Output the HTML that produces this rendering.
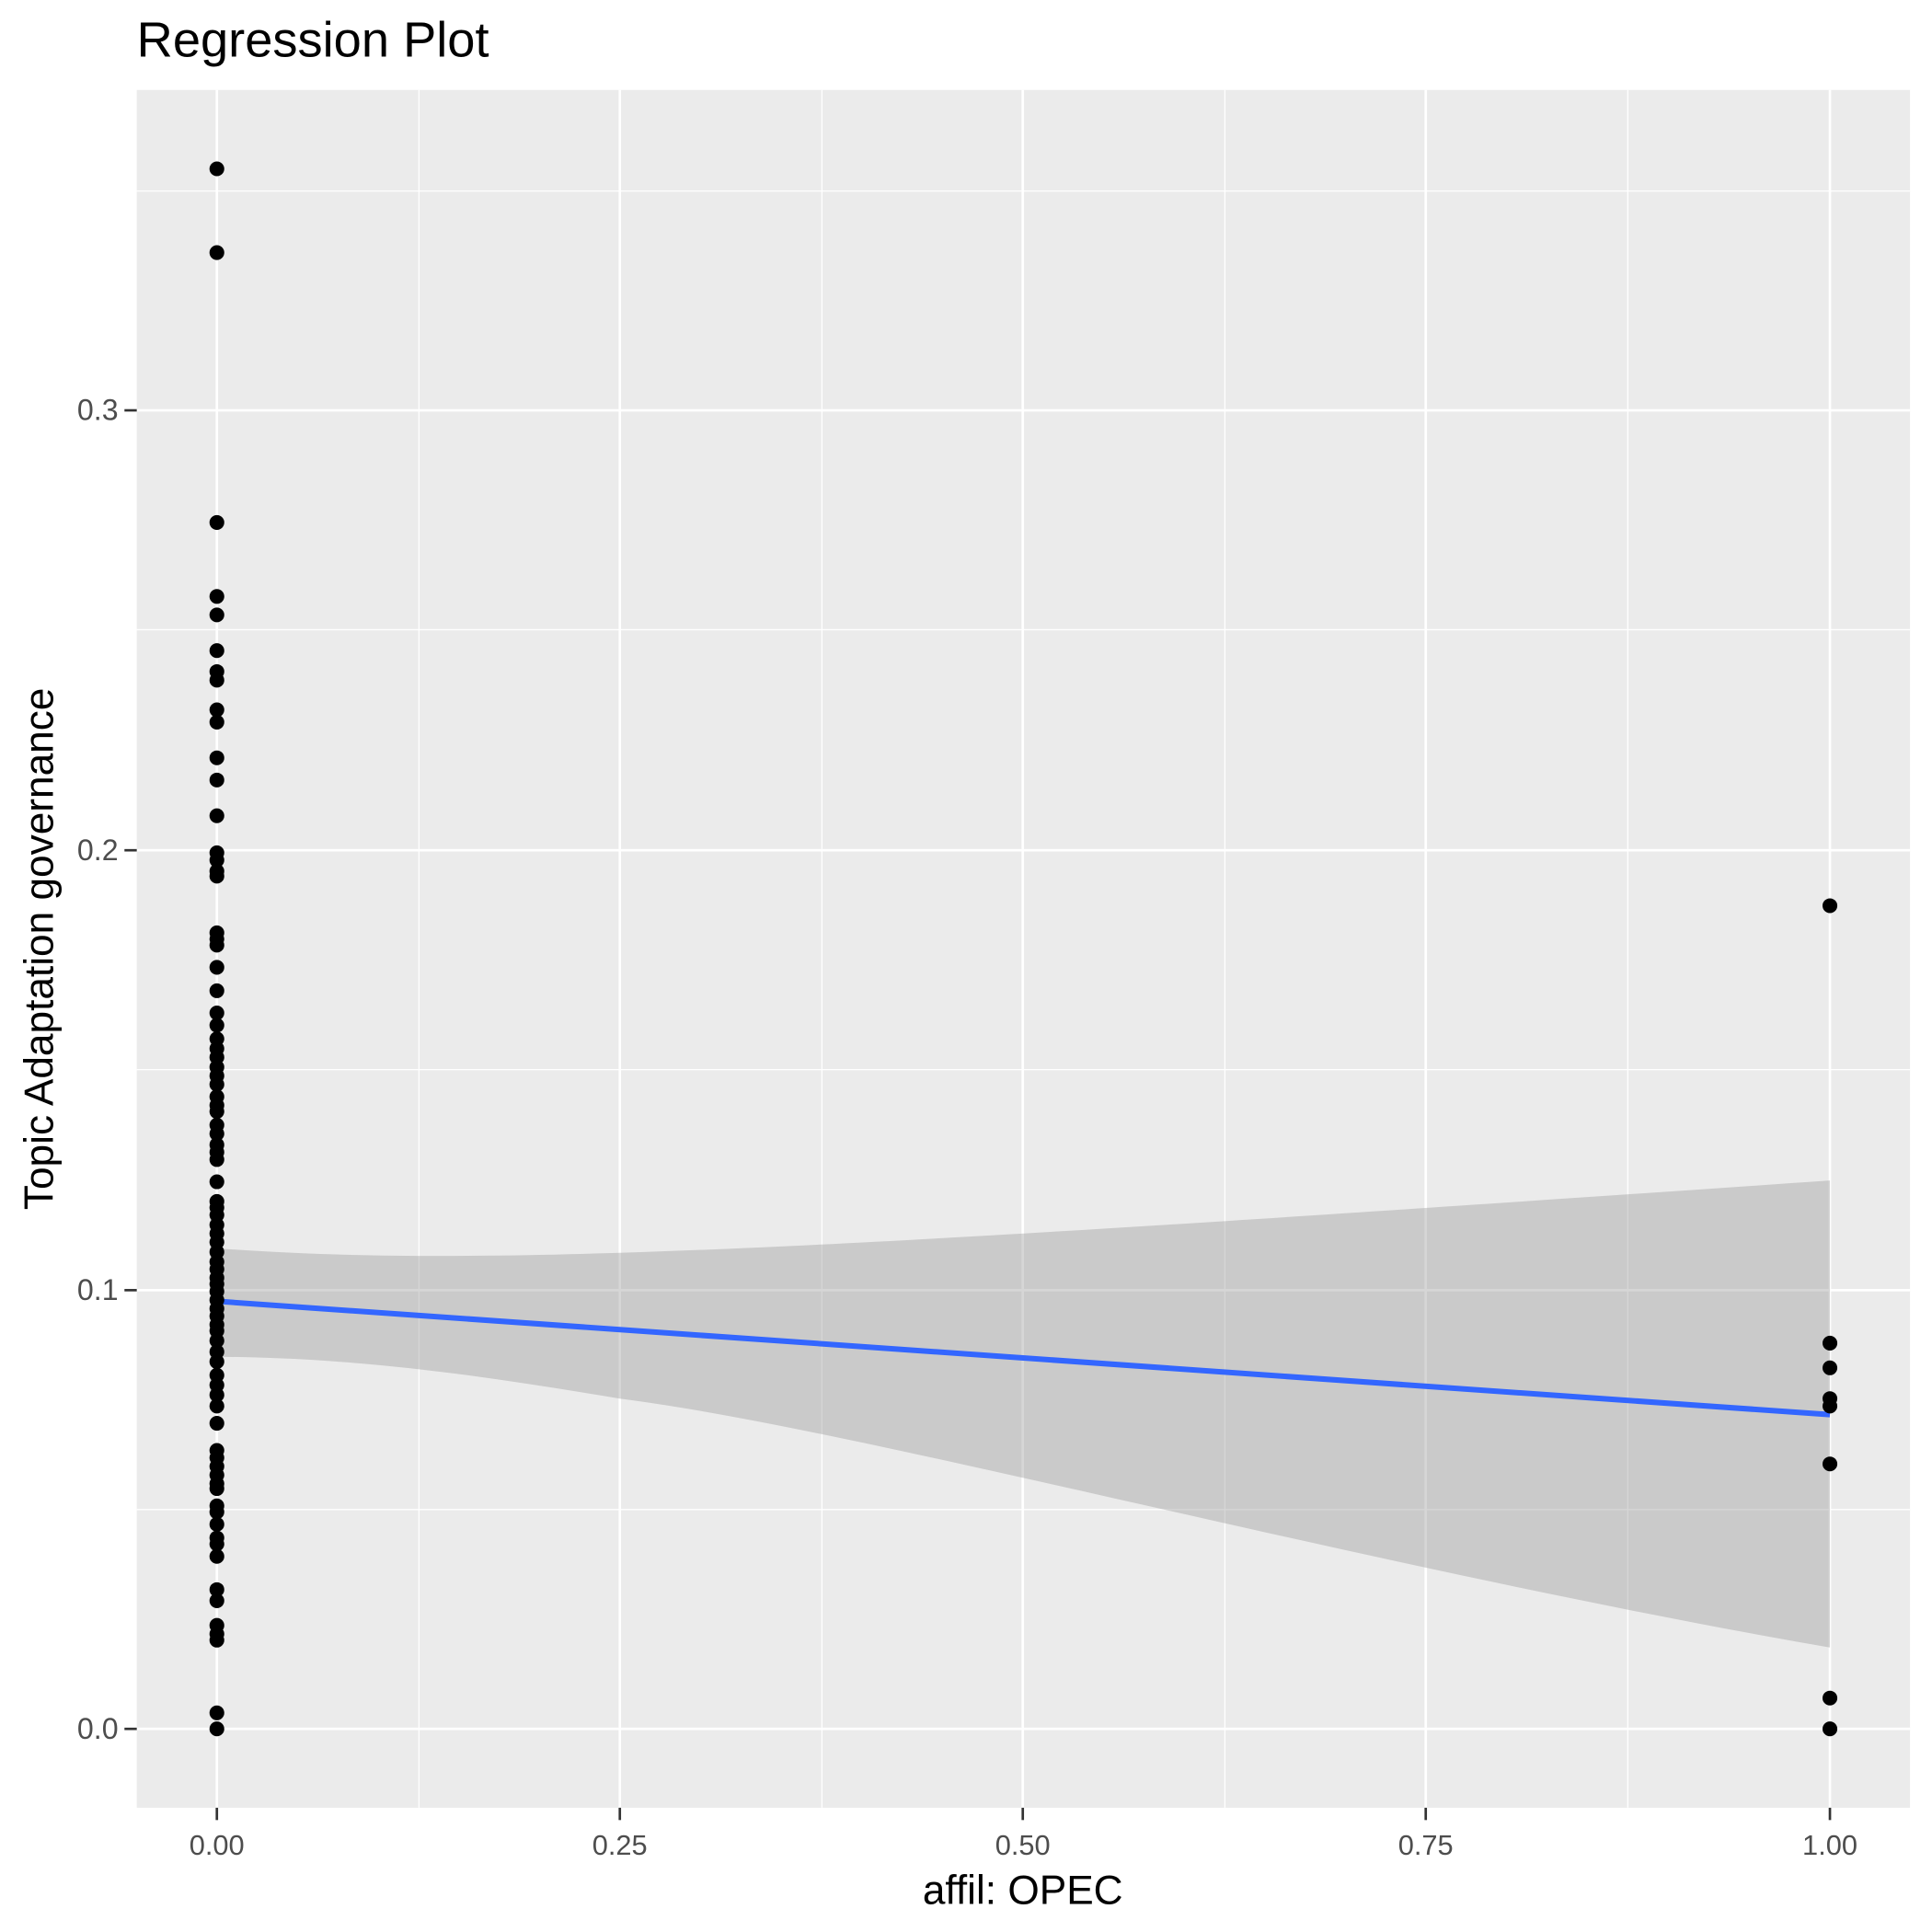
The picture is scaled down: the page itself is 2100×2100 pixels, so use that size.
<!DOCTYPE html>
<html><head><meta charset="utf-8"><style>html,body{margin:0;padding:0;background:#fff}svg{display:block}</style></head>
<body>
<svg width="2100" height="2100" viewBox="0 0 1560 1560" xmlns="http://www.w3.org/2000/svg" font-family="Liberation Sans, sans-serif">
<rect width="1560" height="1560" fill="#fff"/>
<g transform="scale(0.995)">
<rect x="111" y="73" width="1439" height="1394" fill="#EBEBEB"/>
<g stroke="#fff" stroke-width="1">
<line x1="111" x2="1550" y1="1225" y2="1225"/><line x1="111" x2="1550" y1="868" y2="868"/><line x1="111" x2="1550" y1="511" y2="511"/><line x1="111" x2="1550" y1="155" y2="155"/>
<line y1="73" y2="1467" x1="340" x2="340"/><line y1="73" y2="1467" x1="667" x2="667"/><line y1="73" y2="1467" x1="994" x2="994"/><line y1="73" y2="1467" x1="1321" x2="1321"/>
</g>
<g stroke="#fff" stroke-width="2">
<line x1="111" x2="1550" y1="1403" y2="1403"/><line x1="111" x2="1550" y1="1047" y2="1047"/><line x1="111" x2="1550" y1="690" y2="690"/><line x1="111" x2="1550" y1="333" y2="333"/>
<line y1="73" y2="1467" x1="176" x2="176"/><line y1="73" y2="1467" x1="503" x2="503"/><line y1="73" y2="1467" x1="830" x2="830"/><line y1="73" y2="1467" x1="1157" x2="1157"/><line y1="73" y2="1467" x1="1485" x2="1485"/>
</g>
<path d="M176,1013 C400,1030 700,1012 1485,958 L1485,1337 C1100,1270 700,1160 503,1135 C400,1118 300,1102 176,1101 Z" fill="#999" fill-opacity="0.4"/>
<line x1="176" y1="1056" x2="1485" y2="1148" stroke="#3366FF" stroke-width="4.5"/>
<g stroke="#333" stroke-width="2">
<line x1="101" x2="111" y1="1403" y2="1403"/><line x1="101" x2="111" y1="1047" y2="1047"/><line x1="101" x2="111" y1="690" y2="690"/><line x1="101" x2="111" y1="333" y2="333"/>
<line y1="1467" y2="1477" x1="176" x2="176"/><line y1="1467" y2="1477" x1="503" x2="503"/><line y1="1467" y2="1477" x1="830" x2="830"/><line y1="1467" y2="1477" x1="1157" x2="1157"/><line y1="1467" y2="1477" x1="1485" x2="1485"/>
</g>
<g fill="#4D4D4D" font-size="24" text-anchor="end">
<text x="96" y="1411">0.0</text><text x="96" y="1055">0.1</text><text x="96" y="698">0.2</text><text x="96" y="341">0.3</text>
</g>
<g fill="#4D4D4D" font-size="23" text-anchor="middle">
<text x="176" y="1505">0.00</text><text x="503" y="1505">0.25</text><text x="830" y="1505">0.50</text><text x="1157" y="1505">0.75</text><text x="1485" y="1505">1.00</text>
</g>
<text x="830" y="1545" font-size="33" text-anchor="middle" fill="#000">affil: OPEC</text>
<text transform="translate(43,770) rotate(-90)" font-size="33" text-anchor="middle" fill="#000">Topic Adaptation governance</text>
<text x="111" y="46" font-size="40.5" fill="#000">Regression Plot</text>
<g fill="#000">
<circle cx="176" cy="137" r="6"/><circle cx="176" cy="205" r="6"/><circle cx="176" cy="424" r="6"/><circle cx="176" cy="484" r="6"/><circle cx="176" cy="499" r="6"/><circle cx="176" cy="528" r="6"/><circle cx="176" cy="545" r="6"/><circle cx="176" cy="552" r="6"/><circle cx="176" cy="576" r="6"/><circle cx="176" cy="586" r="6"/><circle cx="176" cy="615" r="6"/><circle cx="176" cy="633" r="6"/><circle cx="176" cy="662" r="6"/><circle cx="176" cy="692" r="6"/><circle cx="176" cy="698" r="6"/><circle cx="176" cy="707" r="6"/><circle cx="176" cy="711" r="6"/><circle cx="176" cy="757" r="6"/><circle cx="176" cy="762" r="6"/><circle cx="176" cy="767" r="6"/><circle cx="176" cy="785" r="6"/><circle cx="176" cy="804" r="6"/><circle cx="176" cy="822" r="6"/><circle cx="176" cy="832" r="6"/><circle cx="176" cy="843" r="6"/><circle cx="176" cy="851" r="6"/><circle cx="176" cy="858" r="6"/><circle cx="176" cy="866" r="6"/><circle cx="176" cy="873" r="6"/><circle cx="176" cy="880" r="6"/><circle cx="176" cy="890" r="6"/><circle cx="176" cy="897" r="6"/><circle cx="176" cy="902" r="6"/><circle cx="176" cy="913" r="6"/><circle cx="176" cy="920" r="6"/><circle cx="176" cy="929" r="6"/><circle cx="176" cy="935" r="6"/><circle cx="176" cy="941" r="6"/><circle cx="176" cy="959" r="6"/><circle cx="176" cy="975" r="6"/><circle cx="176" cy="980" r="6"/><circle cx="176" cy="986" r="6"/><circle cx="176" cy="994" r="6"/><circle cx="176" cy="1001" r="6"/><circle cx="176" cy="1008" r="6"/><circle cx="176" cy="1016" r="6"/><circle cx="176" cy="1024" r="6"/><circle cx="176" cy="1030" r="6"/><circle cx="176" cy="1037" r="6"/><circle cx="176" cy="1042" r="6"/><circle cx="176" cy="1048" r="6"/><circle cx="176" cy="1055" r="6"/><circle cx="176" cy="1062" r="6"/><circle cx="176" cy="1068" r="6"/><circle cx="176" cy="1075" r="6"/><circle cx="176" cy="1080" r="6"/><circle cx="176" cy="1088" r="6"/><circle cx="176" cy="1097" r="6"/><circle cx="176" cy="1105" r="6"/><circle cx="176" cy="1116" r="6"/><circle cx="176" cy="1124" r="6"/><circle cx="176" cy="1132" r="6"/><circle cx="176" cy="1141" r="6"/><circle cx="176" cy="1155" r="6"/><circle cx="176" cy="1177" r="6"/><circle cx="176" cy="1183" r="6"/><circle cx="176" cy="1190" r="6"/><circle cx="176" cy="1197" r="6"/><circle cx="176" cy="1204" r="6"/><circle cx="176" cy="1208" r="6"/><circle cx="176" cy="1222" r="6"/><circle cx="176" cy="1227" r="6"/><circle cx="176" cy="1237" r="6"/><circle cx="176" cy="1248" r="6"/><circle cx="176" cy="1253" r="6"/><circle cx="176" cy="1263" r="6"/><circle cx="176" cy="1290" r="6"/><circle cx="176" cy="1299" r="6"/><circle cx="176" cy="1319" r="6"/><circle cx="176" cy="1326" r="6"/><circle cx="176" cy="1331" r="6"/><circle cx="176" cy="1390" r="6"/><circle cx="176" cy="1403" r="6"/>
<circle cx="1485" cy="735" r="6"/><circle cx="1485" cy="1090" r="6"/><circle cx="1485" cy="1110" r="6"/><circle cx="1485" cy="1135" r="6"/><circle cx="1485" cy="1141" r="6"/><circle cx="1485" cy="1188" r="6"/><circle cx="1485" cy="1378" r="6"/><circle cx="1485" cy="1403" r="6"/>
</g>
</g>
</svg>
</body></html>
